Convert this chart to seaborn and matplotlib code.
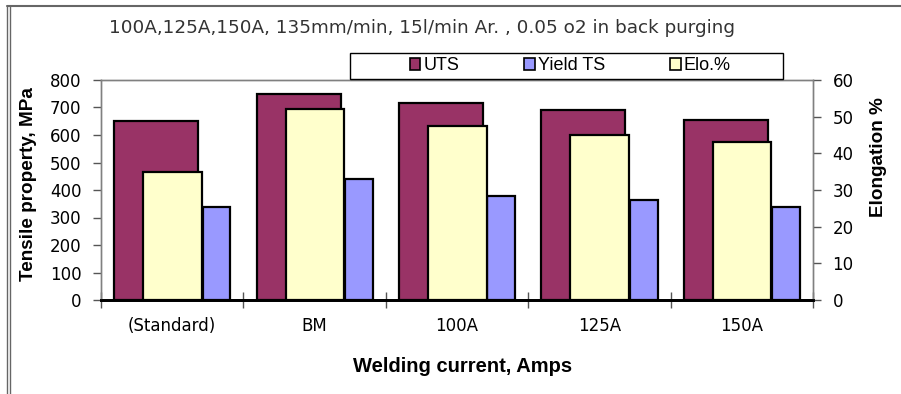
import numpy as np
import pandas as pd
import matplotlib
matplotlib.use("Agg")
import matplotlib.pyplot as plt
import seaborn as sns
from matplotlib.lines import Line2D
from matplotlib.patches import Rectangle, Patch

# ---- data ----
categories = ["(Standard)", "BM", "100A", "125A", "150A"]
uts = [650, 750, 715, 690, 655]
yield_ts = [340, 440, 380, 362, 340]
elongation = [35, 52, 47.5, 45, 43]
series_names = ["UTS", "Yield TS", "Elo.%"]
title = "100A,125A,150A, 135mm/min, 15l/min Ar. , 0.05 o2 in back purging"

col_uts = "#993366"
col_yield = "#9999FF"
col_elo = "#FFFFCC"

sns.set_theme(style="white")
plt.rcParams["font.family"] = ["DejaVu Sans"]
plt.rcParams["text.color"] = "black"
plt.rcParams["axes.labelcolor"] = "black"
plt.rcParams["xtick.color"] = "black"
plt.rcParams["ytick.color"] = "black"

fig = plt.figure(figsize=(9.01, 3.94), dpi=100)
ax = fig.add_axes([101 / 901, 1 - 300 / 394, 712 / 901, 220 / 394])
ax2 = ax.twinx()

df = pd.DataFrame({"cat": categories, "uts": uts, "yield": yield_ts, "elo": elongation})


def shifted_bar(axis, col, color, width, offset):
    before = len(axis.patches)
    sns.barplot(data=df, x="cat", y=col, color=color, width=width, ax=axis,
                edgecolor="black", linewidth=1.6, saturation=1, errorbar=None)
    for p in axis.patches[before:]:
        p.set_x(p.get_x() + offset)


shifted_bar(ax, "uts", col_uts, 0.59, -0.112)
shifted_bar(ax, "yield", col_yield, 0.195, 0.311)
shifted_bar(ax2, "elo", col_elo, 0.412, 0.002)

ax.set_xlim(-0.5, 4.5)
ax.set_ylim(0, 800)
ax2.set_ylim(0, 60)
ax.set_yticks(np.arange(0, 801, 100))
ax2.set_yticks(np.arange(0, 61, 10))

tick_font = dict(family="DejaVu Sans", size=12, color="black")
ax.set_xticks(range(len(categories)))
ax.set_xticklabels(categories, **tick_font)
ax.set_yticklabels([str(v) for v in range(0, 801, 100)], **tick_font)
ax2.set_yticklabels([str(v) for v in range(0, 61, 10)], **tick_font)
ax.set_xticks(np.arange(-0.5, 5, 1), minor=True)
ax.tick_params(axis="x", which="major", length=0, pad=12)
ax.tick_params(axis="x", which="minor", length=12, direction="inout", width=1, color="#555555", bottom=True)
ax.tick_params(axis="y", which="major", length=6, width=1, direction="out", color="#555555", pad=8, left=True)
ax2.tick_params(axis="y", which="major", length=6, width=1, direction="out", color="#555555", pad=8, right=True)

for a in (ax, ax2):
    for s in ("left", "top", "right"):
        a.spines[s].set_color("#808080")
        a.spines[s].set_linewidth(1.0)
    a.spines["bottom"].set_color("black")
    a.spines["bottom"].set_linewidth(2.0)
    a.grid(False)

label_font = dict(family="Liberation Sans", size=14.5, weight="bold", color="black")
ylabel_font = dict(family="Liberation Sans", size=13.6, weight="bold", color="black")
ax.set_xlabel("Welding current, Amps", **label_font)
ax.set_ylabel("Tensile property, MPa", **ylabel_font)
ax2.set_ylabel("Elongation %", **ylabel_font)
ax.xaxis.set_label_coords(0.508, -0.26)
ax.yaxis.set_label_coords(-0.09, 0.527)
ax2.yaxis.set_label_coords(1.08, 0.65)

fig.text(422 / 901, 1 - 28 / 394, title, ha="center", va="center",
         family="DejaVu Sans", size=13.2, color="#333333")

# legend box
fig.patches.append(Rectangle((350 / 901, 1 - 79 / 394), 433 / 901, 26 / 394,
                             transform=fig.transFigure, facecolor="white",
                             edgecolor="black", linewidth=1.0, zorder=5))
handles = [Patch(facecolor=c, edgecolor="black", linewidth=1.2)
           for c in (col_uts, col_yield, col_elo)]
leg = fig.legend(handles, series_names, loc="center", ncol=3,
                 bbox_to_anchor=(570 / 901, 1 - 66 / 394), frameon=False,
                 prop=dict(family="Liberation Sans", size=13),
                 handlelength=0.6, handleheight=0.6, handletextpad=0.15,
                 columnspacing=3.6, labelcolor="black")
leg.set_zorder(6)

# outer frame
fig.add_artist(Line2D([7 / 901, 1.0], [1 - 6 / 394] * 2, transform=fig.transFigure,
                      color="#666666", linewidth=1.5))
fig.add_artist(Line2D([7 / 901] * 2, [0, 1 - 6 / 394], transform=fig.transFigure,
                      color="#666666", linewidth=1.0))
fig.add_artist(Line2D([10 / 901] * 2, [0, 1 - 6 / 394], transform=fig.transFigure,
                      color="#666666", linewidth=1.0))

fig.savefig("out.png", dpi=100)
